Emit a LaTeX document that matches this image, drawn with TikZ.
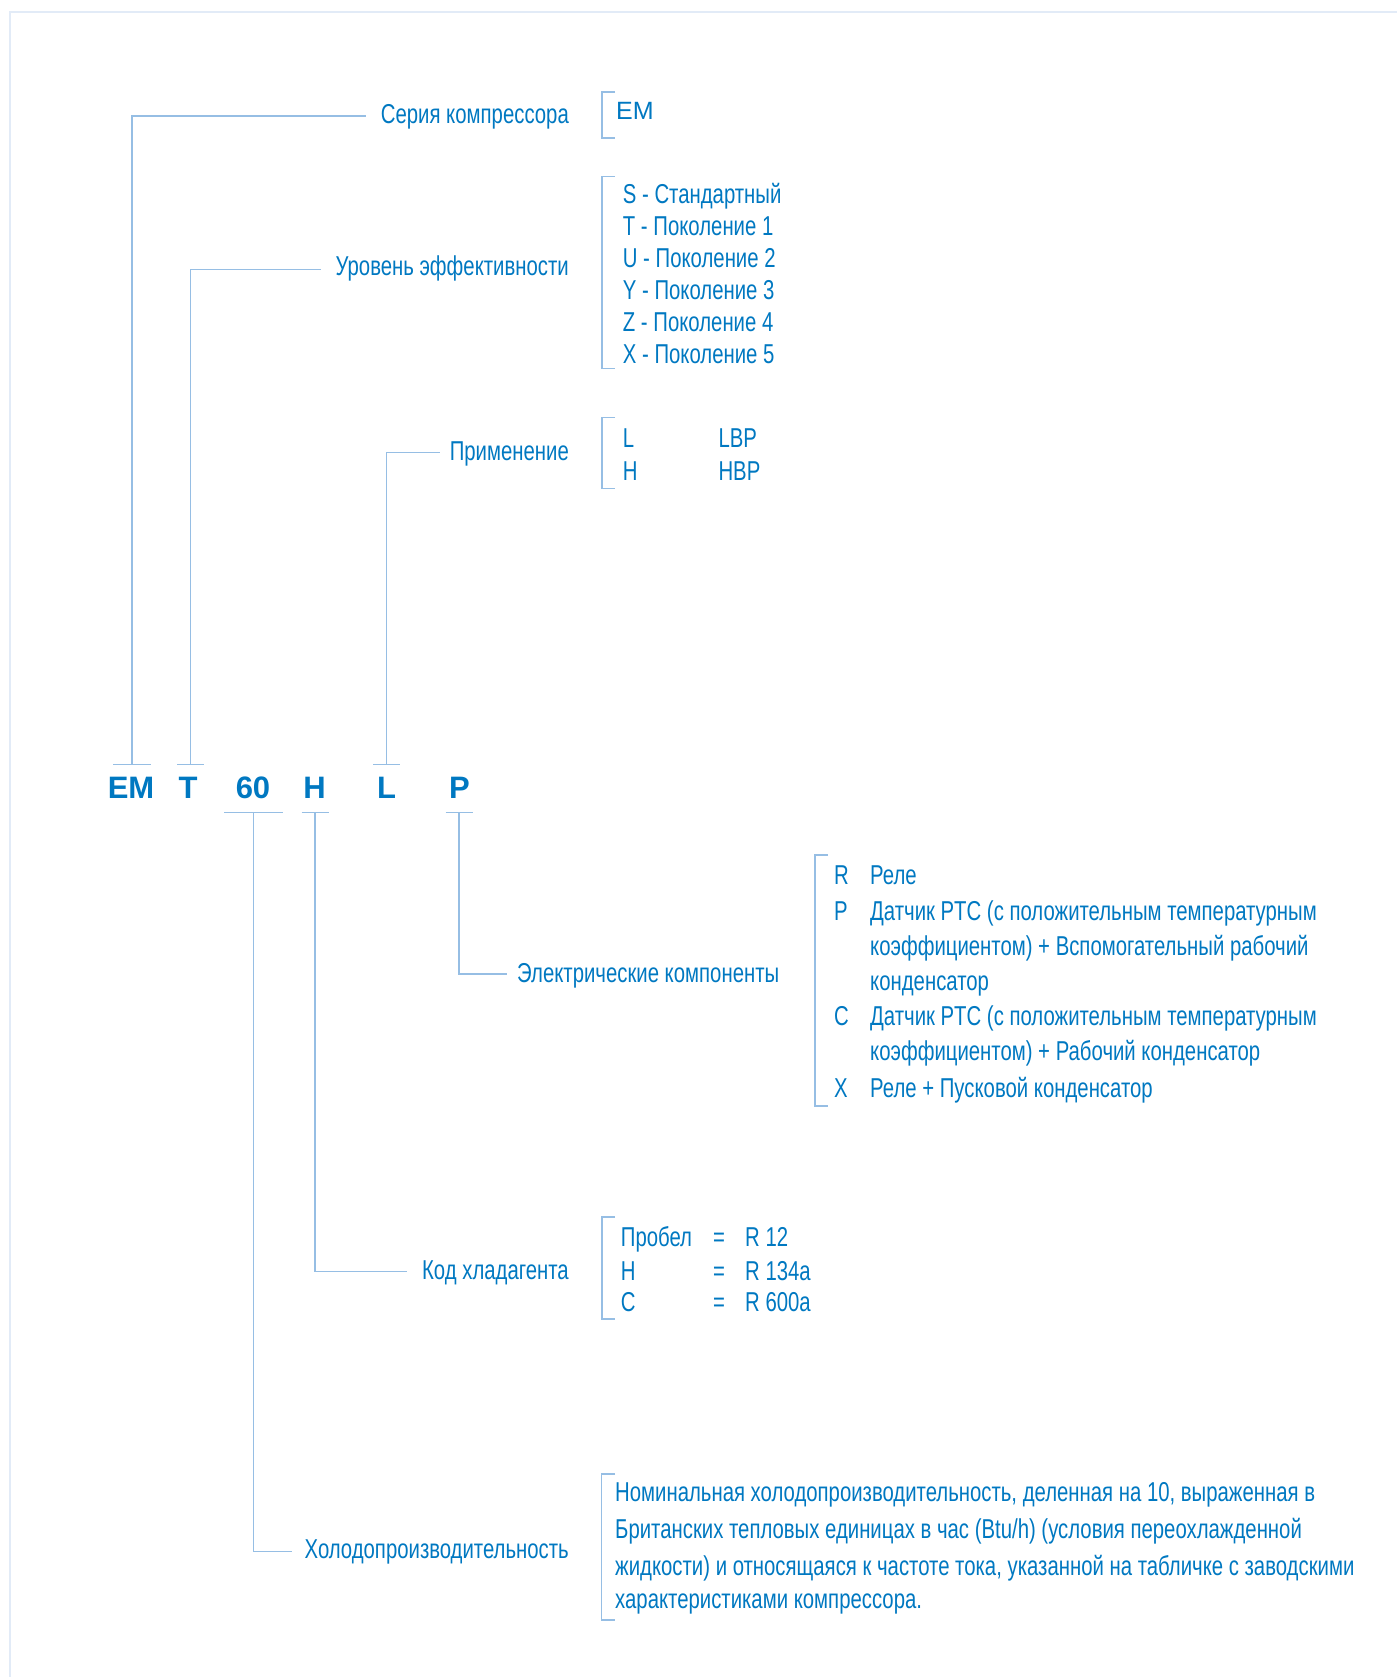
\documentclass[tikz,border=0pt]{standalone}
\usepackage{fontspec}
\setmainfont{Liberation Sans}[FakeStretch=0.745]
\newfontfamily\codefont{Liberation Sans}
\newfontfamily\plainfont{Liberation Sans}
\definecolor{txt}{RGB}{0,120,193}
\definecolor{ln}{RGB}{150,190,228}
\definecolor{frm}{RGB}{226,235,247}
\begin{document}
\begin{tikzpicture}[x=1pt,y=-1pt,
  lbl/.style={inner sep=0pt, text=txt, font=\fontsize{27.3}{32}\selectfont},
  code/.style={inner sep=0pt, text=txt, font=\codefont\bfseries\fontsize{31}{36}\selectfont, anchor=base},
  conn/.style={draw=ln, line width=1.3pt},
  brk/.style={draw=ln, line width=1.3pt},
  frame/.style={draw=frm, line width=2.5pt}]
\useasboundingbox (0,0) rectangle (1397,1677);
\draw[frame] (1397,12) -- (10,12) -- (10,1677);

% code letters
\node[code] (cEM) at (131,798) {EM};
\node[code] (cT) at (188,798) {T};
\node[code] (c60) at (253,798) {60};
\node[code] (cH) at (314.5,798) {H};
\node[code] (cL) at (386.5,798) {L};
\node[code] (cP) at (459.5,798) {P};

% tick bars
\coordinate (bEM) at (132,764.3);
\coordinate (bT) at (190.5,764.3);
\coordinate (bL) at (386.5,764.3);
\coordinate (b60) at (253.5,812.7);
\coordinate (bH) at (315,812.7);
\coordinate (bP) at (459,812.7);
\draw[conn] ([xshift=-19pt]bEM) -- ([xshift=19pt]bEM);
\draw[conn] ([xshift=-13.5pt]bT) -- ([xshift=13.5pt]bT);
\draw[conn] ([xshift=-13.5pt]bL) -- ([xshift=13.5pt]bL);
\draw[conn] ([xshift=-29.5pt]b60) -- ([xshift=29.5pt]b60);
\draw[conn] ([xshift=-13.5pt]bH) -- ([xshift=13.5pt]bH);
\draw[conn] ([xshift=-13.5pt]bP) -- ([xshift=13.5pt]bP);

% labels
\node[lbl, anchor=base east] (lSer) at (569,124) {Серия компрессора};
\node[lbl, anchor=base east] (lUr) at (569,276) {Уровень эффективности};
\node[lbl, anchor=base east] (lPr) at (569,460) {Применение};
\node[lbl, anchor=base west] (lEl) at (517,982.7) {Электрические компоненты};
\node[lbl, anchor=base east] (lKod) at (569,1279.3) {Код хладагента};
\node[lbl, anchor=base east] (lHol) at (569,1558.3) {Холодопроизводительность};

\coordinate (eSer) at (366,116);
\coordinate (eUr) at (321,269.3);
\coordinate (ePr) at (440,452.7);
\coordinate (eEl) at (507,974);
\coordinate (eKod) at (407,1271.7);
\coordinate (eHol) at (291.7,1551.7);

\draw[conn] (bEM) |- (eSer);
\draw[conn] (bT) |- (eUr);
\draw[conn] (bL) |- (ePr);
\draw[conn] (bP) |- (eEl);
\draw[conn] (bH) |- (eKod);
\draw[conn] (b60) |- (eHol);

% bracket 1
\draw[brk] (615,92) -- (602,92) -- (602,138) -- (615,138);
\node[lbl, font=\plainfont\fontsize{25}{30}\selectfont, anchor=base west] (vEM) at (616,120) {EM};

% bracket 2
\draw[brk] (615,176.7) -- (602,176.7) -- (602,368.3) -- (615,368.3);
\node[lbl, anchor=base west] (s1) at (622.7,203.3) {S - Стандартный};
\node[lbl, anchor=base west] (s2) at (622.7,236) {T - Поколение 1};
\node[lbl, anchor=base west] (s3) at (622.7,268) {U - Поколение 2};
\node[lbl, anchor=base west] (s4) at (622.7,300) {Y - Поколение 3};
\node[lbl, anchor=base west] (s5) at (622.7,331.7) {Z - Поколение 4};
\node[lbl, anchor=base west] (s6) at (622.7,363) {X - Поколение 5};

% bracket 3
\draw[brk] (615,417.3) -- (602,417.3) -- (602,488.3) -- (615,488.3);
\node[lbl, anchor=base west] (a1) at (622.7,447.3) {L};
\node[lbl, anchor=base west] (a1v) at (718.3,447.3) {LBP};
\node[lbl, anchor=base west] (a2) at (622.7,480) {H};
\node[lbl, anchor=base west] (a2v) at (718.3,480) {HBP};

% bracket 4
\draw[brk] (828,855) -- (815,855) -- (815,1106) -- (828,1106);
\node[lbl, anchor=base west] (e1) at (834,884) {R};
\node[lbl, anchor=base west] (e1v) at (870,884) {Реле};
\node[lbl, anchor=base west] (e2) at (834,920) {P};
\node[lbl, anchor=base west] (e2v) at (870,920) {Датчик PTC (с положительным температурным};
\node[lbl, anchor=base west] (e2w) at (870,955) {коэффициентом) + Вспомогательный рабочий};
\node[lbl, anchor=base west] (e2x) at (870,990) {конденсатор};
\node[lbl, anchor=base west] (e3) at (834,1025) {C};
\node[lbl, anchor=base west] (e3v) at (870,1025) {Датчик PTC (с положительным температурным};
\node[lbl, anchor=base west] (e3w) at (870,1060) {коэффициентом) + Рабочий конденсатор};
\node[lbl, anchor=base west] (e4) at (834,1097) {X};
\node[lbl, anchor=base west] (e4v) at (870,1097) {Реле + Пусковой конденсатор};

% bracket 5
\draw[brk] (615,1217) -- (602,1217) -- (602,1319) -- (615,1319);
\node[lbl, anchor=base west] (k1) at (620.7,1246.7) {Пробел};
\node[lbl, anchor=base west] (k1e) at (713,1246.7) {=};
\node[lbl, anchor=base west] (k1v) at (745,1246.7) {R 12};
\node[lbl, anchor=base west] (k2) at (620.7,1280) {H};
\node[lbl, anchor=base west] (k2e) at (713,1280) {=};
\node[lbl, anchor=base west] (k2v) at (745,1280) {R 134a};
\node[lbl, anchor=base west] (k3) at (620.7,1311) {C};
\node[lbl, anchor=base west] (k3e) at (713,1311) {=};
\node[lbl, anchor=base west] (k3v) at (745,1311) {R 600a};

% bracket 6
\draw[brk] (615,1474) -- (601.4,1474) -- (601.4,1620) -- (615,1620);
\node[lbl, anchor=base west] (h1) at (615,1501.7) {Номинальная холодопроизводительность, деленная на 10, выраженная в};
\node[lbl, anchor=base west] (h2) at (615,1538) {Британских тепловых единицах в час (Btu/h) (условия переохлажденной};
\node[lbl, anchor=base west] (h3) at (615,1575) {жидкости) и относящаяся к частоте тока, указанной на табличке с заводскими};
\node[lbl, anchor=base west] (h4) at (615,1608) {характеристиками компрессора.};
\end{tikzpicture}
\end{document}
